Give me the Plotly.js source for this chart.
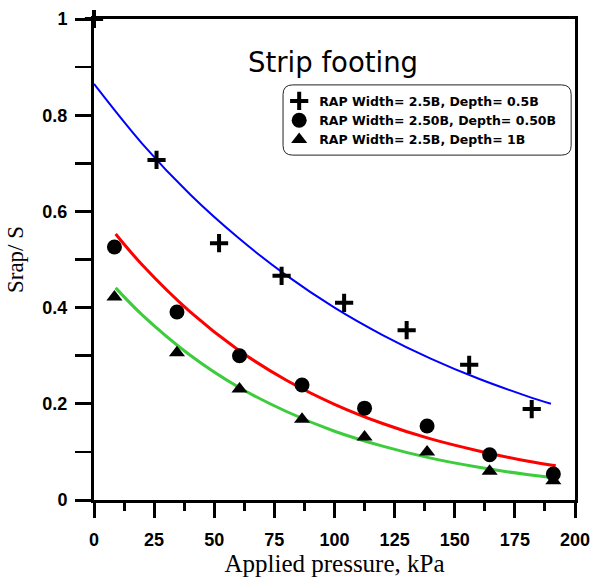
<!DOCTYPE html>
<html>
<head>
<meta charset="utf-8">
<script src="https://cdn.plot.ly/plotly-3.0.1.min.js"></script>
<style>html,body{margin:0;padding:0;background:#fff;}#chart{width:592px;height:578px;}</style>
</head>
<body>
<div id="chart"></div>
<script>
// Measured points
const pressure1 = [0, 26, 52, 78, 104, 130, 156, 182];
const ratio1 = [1.0, 0.707, 0.534, 0.466, 0.41, 0.353, 0.281, 0.189];
const pressure2 = [8.5, 34.5, 60.5, 86.5, 112.5, 138.5, 164.5, 191];
const ratio2 = [0.526, 0.391, 0.3, 0.239, 0.191, 0.154, 0.094, 0.054];
const pressure3 = [8.5, 34.5, 60.5, 86.5, 112.5, 138.5, 164.5, 191];
const ratio3 = [0.422, 0.306, 0.231, 0.168, 0.131, 0.1, 0.06, 0.04];

// Fitted trend curves
const fitX1 = [0, 20, 40, 60, 80, 100, 120, 140, 160, 180, 190];
const fitY1 = [0.865, 0.741, 0.635, 0.545, 0.467, 0.400, 0.343, 0.294, 0.252, 0.216, 0.200];
const fitX2 = [9, 20, 40, 60, 80, 100, 120, 140, 160, 180, 192];
const fitY2 = [0.553, 0.489, 0.391, 0.312, 0.249, 0.199, 0.159, 0.127, 0.102, 0.081, 0.071];
const fitX3 = [9, 20, 40, 60, 80, 100, 120, 140, 160, 180, 192];
const fitY3 = [0.441, 0.385, 0.301, 0.235, 0.184, 0.143, 0.112, 0.087, 0.068, 0.053, 0.046];

const seriesNames = [
  "RAP Width= 2.5B, Depth= 0.5B",
  "RAP Width= 2.50B, Depth= 0.50B",
  "RAP Width= 2.5B, Depth= 1B"
];
const xTickVals = [0, 25, 50, 75, 100, 125, 150, 175, 200];
const yTickVals = [0, 0.2, 0.4, 0.6, 0.8, 1];
const yTickText = ["0", "0.2", "0.4", "0.6", "0.8", "1"];

const traces = [
  {x: fitX1, y: fitY1, mode: 'lines', line: {color: '#0000ff', width: 2, shape: 'spline'}, showlegend: false, hoverinfo: 'skip'},
  {x: fitX2, y: fitY2, mode: 'lines', line: {color: '#ff0000', width: 3, shape: 'spline'}, showlegend: false, hoverinfo: 'skip'},
  {x: fitX3, y: fitY3, mode: 'lines', line: {color: '#3ccc3c', width: 3, shape: 'spline'}, showlegend: false, hoverinfo: 'skip'},
  {x: pressure1, y: ratio1, name: seriesNames[0], mode: 'markers', cliponaxis: false,
   marker: {symbol: 'cross-thin', size: 13, color: '#000', line: {color: '#000', width: 4}}},
  {x: pressure2, y: ratio2, name: seriesNames[1], mode: 'markers', cliponaxis: false,
   marker: {symbol: 'circle', size: 15, color: '#000'}},
  {x: pressure3, y: ratio3, name: seriesNames[2], mode: 'markers', cliponaxis: false,
   marker: {symbol: 'triangle-up', size: 14, color: '#000'}}
];

// rounded legend box in paper coords
const bx0 = 0.393, bx1 = 0.992, by0 = 0.717, by1 = 0.863, rr = 0.02;
const boxPath = `M${bx0+rr},${by1} L${bx1-rr},${by1} Q${bx1},${by1} ${bx1},${by1-rr} L${bx1},${by0+rr} Q${bx1},${by0} ${bx1-rr},${by0} L${bx0+rr},${by0} Q${bx0},${by0} ${bx0},${by0+rr} L${bx0},${by1-rr} Q${bx0},${by1} ${bx0+rr},${by1} Z`;

const tickFont = {family: 'Arial, "Liberation Sans", sans-serif', size: 18, color: '#000', weight: 'bold'};

const layout = {
  width: 592, height: 578,
  margin: {l: 94, r: 17, t: 19, b: 78},
  paper_bgcolor: '#fff', plot_bgcolor: '#fff',
  showlegend: true,
  legend: {
    x: 0.385, y: 0.86, xanchor: 'left', yanchor: 'top',
    bgcolor: 'rgba(0,0,0,0)', borderwidth: 0,
    font: {family: '"DejaVu Sans", sans-serif', size: 12.5, color: '#000', weight: 'bold'},
    tracegroupgap: 0
  },
  xaxis: {
    range: [0, 200], tickvals: xTickVals, ticks: 'outside', ticklen: 15, tickwidth: 3, tickcolor: '#000',
    showline: true, linewidth: 3, linecolor: '#000', mirror: true, showgrid: false, zeroline: false,
    tickfont: tickFont, ticklabelstandoff: 6,
    minor: {dtick: 12.5, tick0: 0, ticks: 'outside', ticklen: 8, tickwidth: 3, tickcolor: '#000', showgrid: false},
    title: {text: 'Applied pressure, kPa', font: {family: '"Liberation Serif", "Times New Roman", serif', size: 25, color: '#000'}, standoff: 2}
  },
  yaxis: {
    range: [0, 1], tickvals: yTickVals, ticktext: yTickText, ticks: 'outside', ticklen: 16, tickwidth: 3, tickcolor: '#000',
    showline: true, linewidth: 3, linecolor: '#000', mirror: true, showgrid: false, zeroline: false,
    tickfont: tickFont, ticklabelstandoff: 4,
    minor: {dtick: 0.1, tick0: 0, ticks: 'outside', ticklen: 16, tickwidth: 2.5, tickcolor: '#000', showgrid: false},
    title: {text: 'Srap/ S', font: {family: '"Liberation Serif", "Times New Roman", serif', size: 23, color: '#000'}, standoff: 13}
  },
  shapes: [{type: 'path', xref: 'paper', yref: 'paper', path: boxPath, line: {color: '#222', width: 1}, fillcolor: 'rgba(0,0,0,0)', layer: 'below'}],
  annotations: [{
    text: 'Strip footing', xref: 'paper', yref: 'paper', x: 0.497, y: 0.911, xanchor: 'center', yanchor: 'middle',
    showarrow: false, font: {family: '"DejaVu Sans", sans-serif', size: 27.5, color: '#000'}
  }]
};

Plotly.newPlot('chart', traces, layout, {displayModeBar: false, staticPlot: true});
</script>
</body>
</html>
